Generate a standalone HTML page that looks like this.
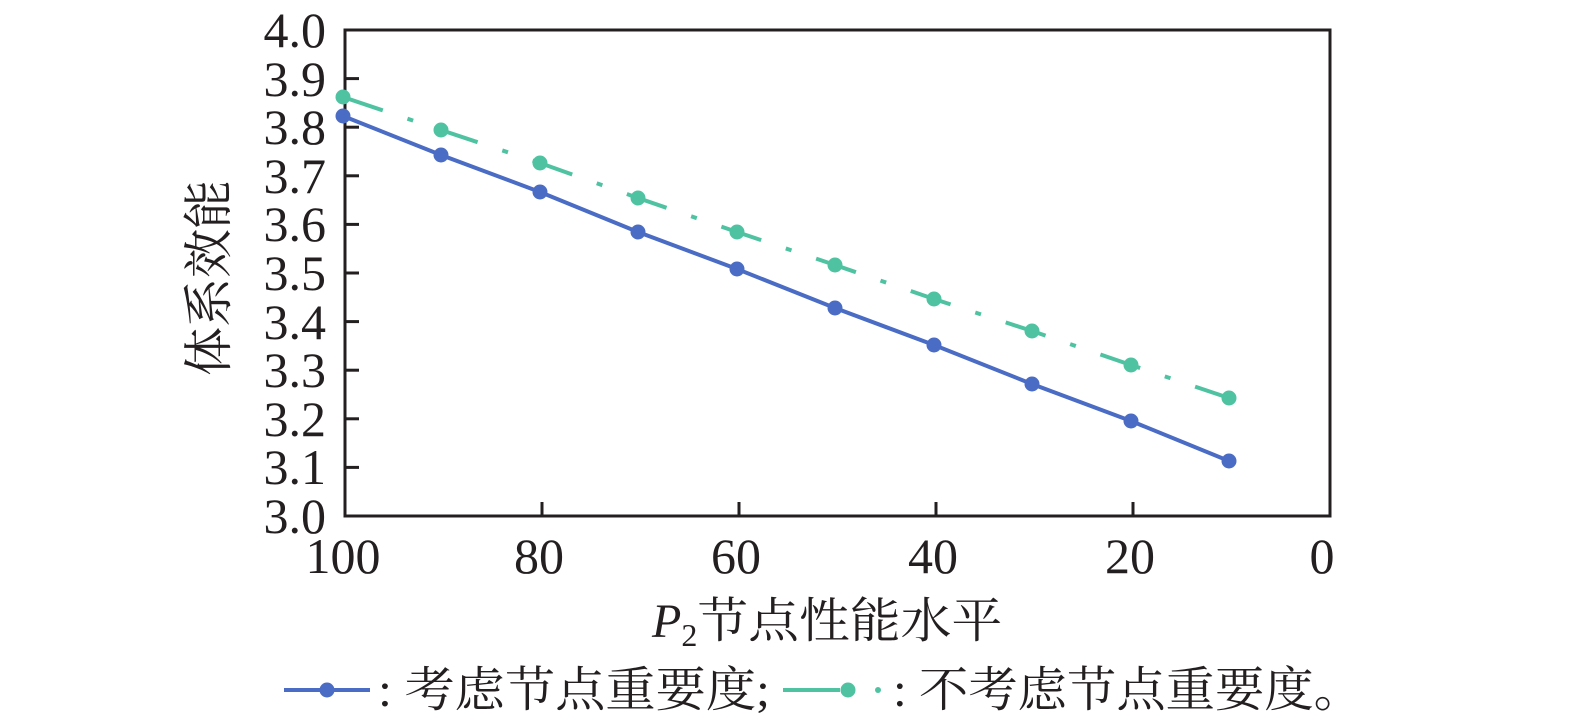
<!DOCTYPE html>
<html><head><meta charset="utf-8"><style>body{margin:0;background:#fff}svg{display:block}</style></head><body>
<svg width="1575" height="721" xmlns="http://www.w3.org/2000/svg" font-family="'Liberation Serif','Noto Serif CJK SC',serif">
<rect width="1575" height="721" fill="#fff"/>
<rect x="345" y="30" width="985" height="486" fill="none" stroke="#231f20" stroke-width="3"/>
<g stroke="#231f20" stroke-width="3">
<line x1="345" y1="78.6" x2="359" y2="78.6"/><line x1="345" y1="127.2" x2="359" y2="127.2"/><line x1="345" y1="175.8" x2="359" y2="175.8"/><line x1="345" y1="224.4" x2="359" y2="224.4"/><line x1="345" y1="273" x2="359" y2="273"/><line x1="345" y1="321.6" x2="359" y2="321.6"/><line x1="345" y1="370.2" x2="359" y2="370.2"/><line x1="345" y1="418.8" x2="359" y2="418.8"/><line x1="345" y1="467.4" x2="359" y2="467.4"/>
<line x1="542" y1="516" x2="542" y2="502"/><line x1="739" y1="516" x2="739" y2="502"/><line x1="936" y1="516" x2="936" y2="502"/><line x1="1133" y1="516" x2="1133" y2="502"/>
</g>
<g font-size="50" fill="#231f20" text-anchor="end">
<text x="326" y="47">4.0</text><text x="326" y="96">3.9</text><text x="326" y="144">3.8</text><text x="326" y="193">3.7</text><text x="326" y="241">3.6</text><text x="326" y="290">3.5</text><text x="326" y="339">3.4</text><text x="326" y="387">3.3</text><text x="326" y="436">3.2</text><text x="326" y="484">3.1</text><text x="326" y="533">3.0</text>
</g>
<g font-size="50" fill="#231f20" text-anchor="middle">
<text x="343" y="573">100</text><text x="539" y="573">80</text><text x="736" y="573">60</text><text x="933" y="573">40</text><text x="1130" y="573">20</text><text x="1322" y="573">0</text>
</g>
<text transform="translate(226,278) rotate(-90)" font-size="50" text-anchor="middle" fill="#231f20" textLength="196" lengthAdjust="spacingAndGlyphs">体系效能</text>
<text x="652" y="637" font-size="48" fill="#231f20"><tspan font-style="italic">P</tspan><tspan font-size="32" dy="9">2</tspan><tspan dy="-9" textLength="305" lengthAdjust="spacingAndGlyphs">节点性能水平</tspan></text>
<polyline fill="none" stroke="#4fc3a1" stroke-width="4" stroke-dasharray="42,26,6,26" points="343,97 441,130 540,163 638,198 737,232 835,265 934,299 1032,331 1131,365 1229,398"/>
<g fill="#4fc3a1"><circle cx="343" cy="97" r="7.5"/><circle cx="441" cy="130" r="7.5"/><circle cx="540" cy="163" r="7.5"/><circle cx="638" cy="198" r="7.5"/><circle cx="737" cy="232" r="7.5"/><circle cx="835" cy="265" r="7.5"/><circle cx="934" cy="299" r="7.5"/><circle cx="1032" cy="331" r="7.5"/><circle cx="1131" cy="365" r="7.5"/><circle cx="1229" cy="398" r="7.5"/></g>
<polyline fill="none" stroke="#4a6cc4" stroke-width="4" points="343,116 441,155 540,192 638,232 737,269 835,308 934,345 1032,384 1131,421 1229,461"/>
<g fill="#4a6cc4"><circle cx="343" cy="116" r="7.5"/><circle cx="441" cy="155" r="7.5"/><circle cx="540" cy="192" r="7.5"/><circle cx="638" cy="232" r="7.5"/><circle cx="737" cy="269" r="7.5"/><circle cx="835" cy="308" r="7.5"/><circle cx="934" cy="345" r="7.5"/><circle cx="1032" cy="384" r="7.5"/><circle cx="1131" cy="421" r="7.5"/><circle cx="1229" cy="461" r="7.5"/></g>
<line x1="284" y1="690" x2="370" y2="690" stroke="#4a6cc4" stroke-width="4"/><circle cx="327" cy="690" r="7.5" fill="#4a6cc4"/>
<text x="378" y="706" font-size="48" fill="#231f20" textLength="392" lengthAdjust="spacingAndGlyphs">: 考虑节点重要度;</text>
<line x1="783" y1="690" x2="840" y2="690" stroke="#4fc3a1" stroke-width="4"/><circle cx="848" cy="690" r="7.5" fill="#4fc3a1"/><circle cx="878" cy="690" r="3" fill="#4fc3a1"/>
<text x="893" y="706" font-size="48" fill="#231f20" textLength="470" lengthAdjust="spacingAndGlyphs">: 不考虑节点重要度。</text>
</svg>
</body></html>
